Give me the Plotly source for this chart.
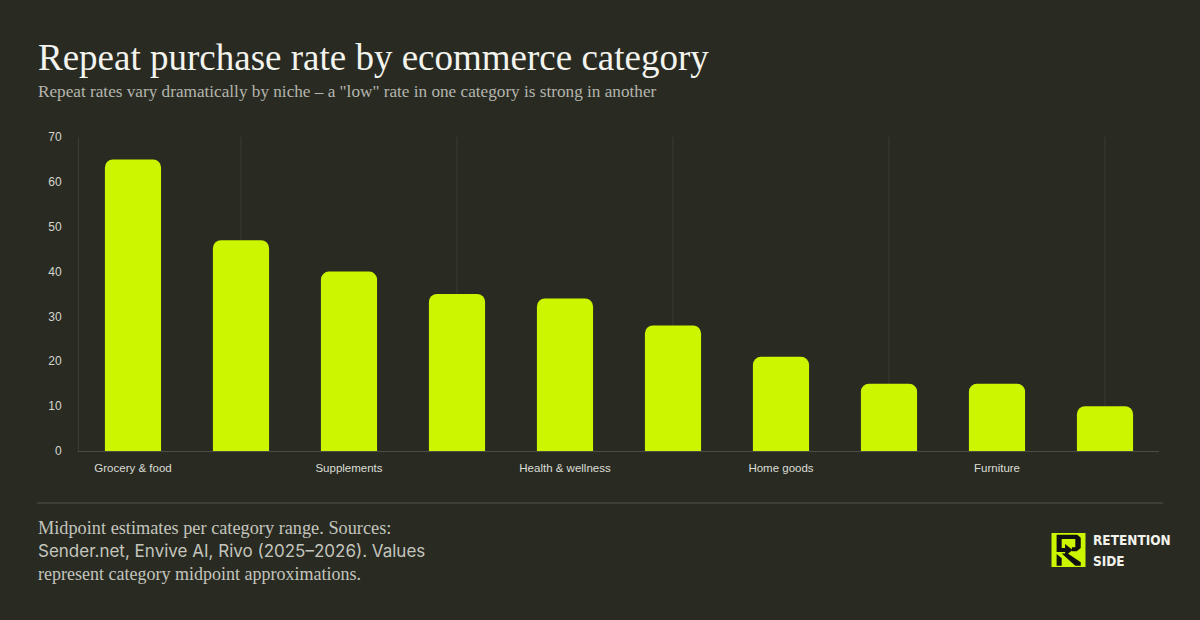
import plotly.graph_objects as go

categories = [
    "Grocery & food", "Pet supplies", "Supplements", "Beauty & personal care",
    "Health & wellness", "Apparel", "Home goods", "Electronics", "Furniture", "Luxury goods",
]
repeat_rate = [65, 47, 40, 35, 34, 28, 21, 15, 15, 10]
y_ticks = [0, 10, 20, 30, 40, 50, 60, 70]

BG = "#292b23"
LIME = "#ccf500"
GRID = "#3b3d34"
AXIS = "#4b4d44"

W, H = 1200, 620
L, R, T, B = 79, 41, 137, 169


def px(x):
    return (x - L) / (W - L - R)


def py(y):
    return (H - B - y) / (H - T - B)


fig = go.Figure()
fig.add_trace(go.Bar(
    x=categories,
    y=repeat_rate,
    marker=dict(color=LIME, cornerradius=8, line=dict(width=0)),
    width=0.52,
    hoverinfo="x+y",
))

# vertical guides on the unlabelled categories
shapes = []
for c in categories[1::2]:
    shapes.append(dict(type="line", xref="x", yref="paper", x0=c, x1=c, y0=0, y1=1,
                       line=dict(color=GRID, width=1), layer="below"))

# footer separator
shapes.append(dict(type="line", xref="paper", yref="paper", x0=px(37), x1=px(1163),
                   y0=py(503), y1=py(503), line=dict(color="#3d3f36", width=2)))

# logo square and mark
x0, y0, s = 1051.5, 533, 34


def lp(pts):
    d = ""
    for i, (u, v) in enumerate(pts):
        d += ("M" if i == 0 else "L") + f"{px(x0 + u * s):.5f},{py(y0 + v * s):.5f}"
    return d + "Z"


shapes.append(dict(type="rect", xref="paper", yref="paper", x0=px(x0), x1=px(x0 + s),
                   y0=py(y0), y1=py(y0 + s), fillcolor=LIME, line=dict(width=0)))
logo_parts = [
    [(0.15, 0.05), (0.76, 0.05), (0.86, 0.14), (0.86, 0.44), (0.74, 0.54),
     (0.6, 0.54), (0.6, 0.42), (0.7, 0.42), (0.7, 0.18), (0.3, 0.18), (0.3, 0.44), (0.15, 0.44)],
    [(0.15, 0.44), (0.4, 0.44), (0.4, 0.32), (0.62, 0.5), (0.4, 0.68), (0.4, 0.56), (0.15, 0.56)],
    [(0.3, 0.6), (0.48, 0.6), (0.86, 0.86), (0.86, 0.96), (0.7, 0.96)],
    [(0.15, 0.62), (0.3, 0.74), (0.3, 0.96), (0.15, 0.96)],
]
for part in logo_parts:
    shapes.append(dict(type="path", xref="paper", yref="paper", path=lp(part),
                       fillcolor="#111111", line=dict(width=0)))

LOGO_FONT = "DejaVu Sans Condensed, sans-serif"
annotations = [
    dict(text="Repeat purchase rate by ecommerce category", x=px(36), y=py(58),
         font=dict(family="Liberation Serif", size=37, color="#f4f4ee")),
    dict(text='Repeat rates vary dramatically by niche – a "low" rate in one category is strong in another',
         x=px(36), y=py(91), font=dict(family="Liberation Serif", size=17.2, color="#b4b5ad")),
    dict(text="Midpoint estimates per category range. Sources:", x=px(36), y=py(528),
         font=dict(family="Liberation Serif", size=18.3, color="#c4c5bd")),
    dict(text="Sender.net, Envive AI, Rivo (2025–2026). Values", x=px(36), y=py(551),
         font=dict(family="Inter", size=17, color="#c4c5bd")),
    dict(text="represent category midpoint approximations.", x=px(36), y=py(574),
         font=dict(family="Liberation Serif", size=18, color="#c4c5bd")),
    dict(text="<b>RETENTION</b>", x=px(1091), y=py(540),
         font=dict(family=LOGO_FONT, size=13.5, color="#f2f2ec")),
    dict(text="<b>SIDE</b>", x=px(1091), y=py(561),
         font=dict(family=LOGO_FONT, size=13.5, color="#f2f2ec")),
]
for a in annotations:
    a.update(xref="paper", yref="paper", xanchor="left", yanchor="middle", showarrow=False)

fig.update_layout(
    width=W, height=H,
    margin=dict(l=L, r=R, t=T, b=B),
    paper_bgcolor=BG, plot_bgcolor=BG,
    showlegend=False,
    bargap=0.48,
    shapes=shapes,
    annotations=annotations,
    xaxis=dict(
        type="category", categoryarray=categories, range=[-0.5, len(categories) - 0.5],
        tickvals=categories[0::2], ticktext=categories[0::2],
        showgrid=False, showline=True, linecolor=AXIS, linewidth=1,
        ticks="", ticklabelstandoff=6,
        tickfont=dict(family="Liberation Sans", size=11.5, color="#dcddd5"),
        fixedrange=True,
    ),
    yaxis=dict(
        range=[0, 70], tickvals=y_ticks, showgrid=False, zeroline=False,
        showline=True, linecolor=GRID, linewidth=1, ticks="", ticklabelstandoff=14,
        tickfont=dict(family="Liberation Sans", size=12, color="#d4d5cd"),
        fixedrange=True,
    ),
)

fig.write_html("out.html", config={"displayModeBar": False},
               post_script="document.body.style.margin='0';")
